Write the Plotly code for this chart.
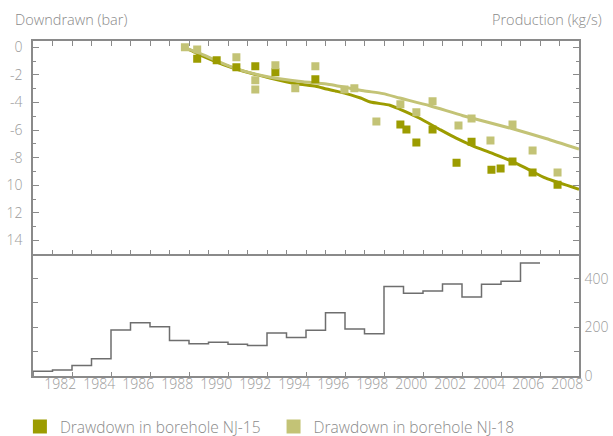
import plotly.graph_objects as go

# ---- data ----
prod_years = list(range(1981, 2007))
production = [19, 25, 43, 71, 189, 219, 202, 146, 132, 139, 130, 125, 177, 158,
              188, 260, 193, 174, 368, 340, 349, 378, 325, 377, 389, 464]

nj15_x = [1989.42, 1990.42, 1991.43, 1992.4, 1993.43, 1995.48, 1999.84, 2000.15,
          2000.66, 2001.49, 2002.72, 2003.49, 2004.51, 2004.98, 2005.59, 2006.62, 2007.9]
nj15_y = [0.84, 0.95, 1.45, 1.38, 1.82, 2.32, 5.6, 5.96, 6.9, 5.96, 8.36, 6.85,
          8.87, 8.79, 8.28, 9.08, 9.96]

nj18_x = [1988.79, 1989.42, 1991.43, 1992.4, 1992.4, 1993.43, 1994.45, 1995.48,
          1996.97, 1997.48, 1998.61, 1999.84, 2000.66, 2001.49, 2002.82, 2003.49,
          2004.46, 2005.59, 2006.62, 2007.9]
nj18_y = [0.0, 0.17, 0.73, 2.4, 3.07, 1.31, 2.98, 1.38, 3.07, 2.98, 5.38, 4.14,
          4.72, 3.92, 5.67, 5.16, 6.76, 5.6, 7.49, 9.08]

trend15_x = [1988.7, 1989.05, 1989.7, 1990.75, 1991.8, 1993.15, 1994.5, 1995.5,
             1996.05, 1996.6, 1997.8, 1998.3, 1999.3, 1999.8, 2000.8, 2001.9,
             2002.7, 2003.55, 2004.5, 2005.6, 2006.4, 2007.3, 2009.0]
trend15_y = [0.1, 0.2, 0.65, 1.25, 1.74, 2.23, 2.65, 2.83, 3.03, 3.2, 3.68, 3.97,
             4.2, 4.48, 5.13, 5.99, 6.59, 7.14, 7.66, 8.28, 8.85, 9.49, 10.29]

trend18_x = [1988.7, 1989.7, 1991.45, 1993.15, 1994.85, 1996.05, 1997.95, 1998.95,
             1999.8, 2001.35, 2003.05, 2005.6, 2007.3, 2009.0]
trend18_y = [0.0, 0.53, 1.57, 2.18, 2.51, 2.66, 3.15, 3.36, 3.68, 4.24, 4.96,
             5.91, 6.61, 7.38]

year_labels = [str(y) for y in range(1982, 2009, 2)]
dd_tickvals = [0, 2, 4, 6, 8, 10, 12, 14]
dd_ticktext = ["0", "-2", "-4", "-6", "-8", "10", "12", "14"]
prod_tickvals = [0, 200, 400]
legend_names = ["Drawdown in borehole NJ-15", "Drawdown in borehole NJ-18"]

# ---- style ----
DARK = "#9c9c00"
LIGHT = "#c3c376"
AXIS = "#8a8a8a"
TXT = "#9a9a9a"
FONT = "Open Sans"

fig = go.Figure()

fig.add_trace(go.Scatter(x=trend15_x, y=trend15_y, mode="lines",
                         line=dict(color=DARK, width=3, shape="spline", smoothing=0.6),
                         showlegend=False, xaxis="x", yaxis="y"))
fig.add_trace(go.Scatter(x=trend18_x, y=trend18_y, mode="lines",
                         line=dict(color=LIGHT, width=3, shape="spline", smoothing=0.6),
                         showlegend=False, xaxis="x", yaxis="y"))
fig.add_trace(go.Scatter(x=nj15_x, y=nj15_y, mode="markers",
                         marker=dict(symbol="square", size=8, color=DARK),
                         showlegend=False, xaxis="x", yaxis="y"))
fig.add_trace(go.Scatter(x=nj18_x, y=nj18_y, mode="markers",
                         marker=dict(symbol="square", size=8, color=LIGHT),
                         showlegend=False, xaxis="x", yaxis="y"))

# legend entries (first name padded with non-breaking spaces for item spacing)
pads = ["\u00a0\u00a0", ""]
for name, col, pad in zip(legend_names, [DARK, LIGHT], pads):
    fig.add_trace(go.Scatter(x=[None], y=[None], mode="markers", name=name + pad,
                             marker=dict(symbol="square", size=14, color=col),
                             xaxis="x", yaxis="y"))

# production step line
step_x = prod_years + [prod_years[-1] + 1]
step_y = production + [production[-1]]
fig.add_trace(go.Scatter(x=step_x, y=step_y, mode="lines",
                         line=dict(color="#6e6e6e", width=1.5, shape="hv"),
                         showlegend=False, xaxis="x2", yaxis="y2"))

tfont = dict(family=FONT, size=14, color=TXT, weight=300)
afont = dict(family=FONT, size=14.5, color="#8a8a8a", weight=300)
lfont = dict(family=FONT, size=15.5, color="#8a8a8a", weight=300)

split = 0.3633
fig.update_layout(
    width=613, height=436,
    margin=dict(l=33, r=34, t=41, b=60, autoexpand=False),
    paper_bgcolor="white", plot_bgcolor="white",
    font=tfont,
    xaxis=dict(domain=[0, 1], anchor="y", side="top", range=[1981, 2009],
               showgrid=False, zeroline=False, showline=True, linecolor=AXIS, linewidth=1.5,
               mirror="ticks", ticks="inside", ticklen=5, tickcolor=AXIS, tickwidth=1,
               tick0=1982, dtick=1, showticklabels=False),
    yaxis=dict(domain=[split, 1], anchor="x", range=[15, -0.45],
               showgrid=False, zeroline=False, showline=True, linecolor=AXIS, linewidth=1.5,
               mirror="ticks", ticks="inside", ticklen=6, tickcolor=AXIS, tickwidth=1,
               tickvals=dd_tickvals, ticktext=dd_ticktext, ticklabelstandoff=6,
               tickfont=tfont,
               minor=dict(dtick=1, tick0=1, ticks="inside", ticklen=3, tickcolor=AXIS)),
    xaxis2=dict(domain=[0, 1], anchor="y2", range=[1981, 2009],
                showgrid=False, zeroline=False, showline=True, linecolor=AXIS, linewidth=1.5,
                mirror=False, ticks="", tickvals=[int(t) + 0.4 for t in year_labels],
                ticktext=year_labels, tickfont=tfont,
                ticklabelstandoff=-6,
                minor=dict(tick0=1983, dtick=2, ticks="inside", ticklen=4, tickcolor=AXIS)),
    xaxis3=dict(overlaying="x2", anchor="y2", side="top", range=[1981, 2009],
                showgrid=False, zeroline=False, showline=False,
                ticks="inside", ticklen=6, tickcolor=AXIS, tick0=1982, dtick=2,
                showticklabels=False,
                minor=dict(tick0=1983, dtick=2, ticks="inside", ticklen=3, tickcolor=AXIS)),
    yaxis2=dict(domain=[0, split], anchor="x2", side="right", range=[0, 500],
                showgrid=False, zeroline=False, showline=True, linecolor=AXIS, linewidth=1.5,
                mirror="ticks", ticks="inside", ticklen=5, tickcolor=AXIS, tickwidth=1,
                tickvals=prod_tickvals, ticklabelstandoff=1,
                tickfont=tfont,
                minor=dict(dtick=100, tick0=100, ticks="inside", ticklen=5, tickcolor=AXIS)),
    legend=dict(orientation="h", x=-0.024, xanchor="left", y=-0.152, yanchor="middle",
                font=lfont, itemwidth=30,
                bgcolor="rgba(0,0,0,0)"),
    annotations=[
        dict(text="Downdrawn (bar)", xref="paper", yref="paper", x=-0.037, y=1.063,
             xanchor="left", yanchor="middle", showarrow=False, font=afont),
        dict(text="Production (kg/s)", xref="paper", yref="paper", x=1.046, y=1.063,
             xanchor="right", yanchor="middle", showarrow=False, font=afont),
    ],
)

fig.write_html("out.html", config={"displayModeBar": False},
               post_script="document.body.style.margin='0';document.body.style.overflow='hidden';")
